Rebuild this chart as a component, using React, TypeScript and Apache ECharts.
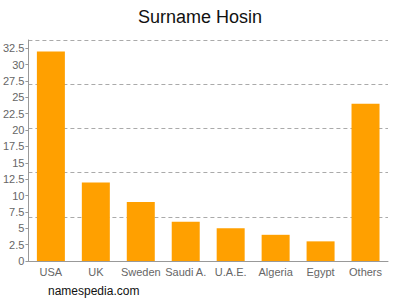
import React, { useEffect, useRef } from "react";
import * as echarts from "echarts";

const categories = ["USA", "UK", "Sweden", "Saudi A.", "U.A.E.", "Algeria", "Egypt", "Others"];
const values = [32, 12, 9, 6, 5, 4, 3, 24];
const yMax = 33.75;
const labelStep = 2.5;
const gridStep = 6.75;

export default function App() {
  const ref = useRef<HTMLDivElement>(null);
  useEffect(() => {
    const chart = echarts.init(ref.current!, undefined, { renderer: "svg" });
    chart.setOption({
      animation: false,
      title: {
        text: "Surname Hosin",
        left: "center",
        top: 3,
        textStyle: { fontFamily: "Liberation Sans, Arial, sans-serif", fontSize: 18, fontWeight: "normal", color: "#111" },
      },
      graphic: [
        {
          type: "text",
          left: 48,
          top: 285,
          style: { text: "namespedia.com", fontFamily: "Liberation Sans, Arial, sans-serif", fontSize: 12, fill: "#111" },
        },
      ],
      grid: { left: 28, right: 12, top: 40, bottom: 39, containLabel: false },
      xAxis: {
        type: "category",
        data: categories,
        axisLine: { lineStyle: { color: "#999" } },
        axisTick: { alignWithLabel: true, length: 3, lineStyle: { color: "#999" } },
        axisLabel: { color: "#666", fontSize: 11, margin: 5, fontFamily: "Liberation Sans, Arial, sans-serif", interval: 0 },
      },
      yAxis: [
        {
          type: "value",
          min: 0,
          max: yMax,
          interval: labelStep,
          axisLine: { show: true, lineStyle: { color: "#999" } },
          axisTick: { show: true, length: 3, lineStyle: { color: "#999" } },
          axisLabel: { color: "#666", fontSize: 11, margin: 4, fontFamily: "Liberation Sans, Arial, sans-serif", showMaxLabel: false },
          splitLine: { show: false },
        },
        {
          type: "value",
          min: 0,
          max: yMax,
          interval: gridStep,
          position: "left",
          axisLine: { show: false },
          axisTick: { show: false },
          axisLabel: { show: false },
          splitLine: { show: true, lineStyle: { color: "#aaa", type: [4, 3] } },
        },
      ],
      series: [
        {
          type: "bar",
          data: values,
          barWidth: 28,
          itemStyle: { color: "#ffa000" },
        },
      ],
    });
    return () => chart.dispose();
  }, []);
  return <div ref={ref} style={{ width: 400, height: 300, position: "absolute", left: 0, top: 0 }} />;
}
